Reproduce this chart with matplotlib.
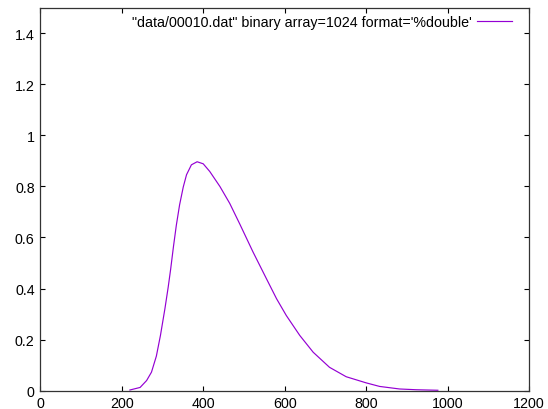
import matplotlib.pyplot as plt

# curve
xs = [220, 245, 261, 273, 285, 295, 306, 314, 320, 327, 334, 342, 351, 359,
      371, 385, 400, 416, 441, 465, 490, 522, 555, 580, 604, 637, 670, 710,
      751, 800, 833, 882, 923, 976]
ys = [0.002, 0.012, 0.039, 0.072, 0.135, 0.216, 0.321, 0.405, 0.475, 0.565,
      0.648, 0.728, 0.798, 0.846, 0.885, 0.897, 0.889, 0.859, 0.800, 0.734,
      0.652, 0.544, 0.439, 0.360, 0.294, 0.216, 0.150, 0.091, 0.054, 0.030,
      0.016, 0.006, 0.003, 0.001]
label = "\"data/00010.dat\" binary array=1024 format='%double'"
xticks = [0, 200, 400, 600, 800, 1000, 1200]
yticks = [0, 0.2, 0.4, 0.6, 0.8, 1.0, 1.2, 1.4]
yticklabels = ["0", "0.2", "0.4", "0.6", "0.8", "1", "1.2", "1.4"]

plt.rcParams['font.family'] = ['Liberation Sans', 'DejaVu Sans']
plt.rcParams['font.size'] = 10.3

fig = plt.figure(figsize=(5.48, 4.10), dpi=100)
ax = fig.add_axes([0.0735, 0.0451, 0.892, 0.933])

ax.plot(xs, ys, color='#9400d3', lw=0.85, label=label)

ax.set_xlim(0, 1200)
ax.set_ylim(0, 1.5)
ax.set_xticks(xticks)
ax.set_yticks(yticks)
ax.set_yticklabels(yticklabels)
ax.tick_params(direction='in', length=3.5, width=0.8, top=True, right=True,
               colors='black', pad=4)
for s in ax.spines.values():
  s.set_linewidth(0.9)
  s.set_color('#333333')

ax.legend(loc='upper right', frameon=False, markerfirst=False,
          handlelength=2.45, handletextpad=0.35, borderaxespad=0.2,
          borderpad=0.3, bbox_to_anchor=(0.98, 1.0))

fig.savefig('out.png', dpi=100)
